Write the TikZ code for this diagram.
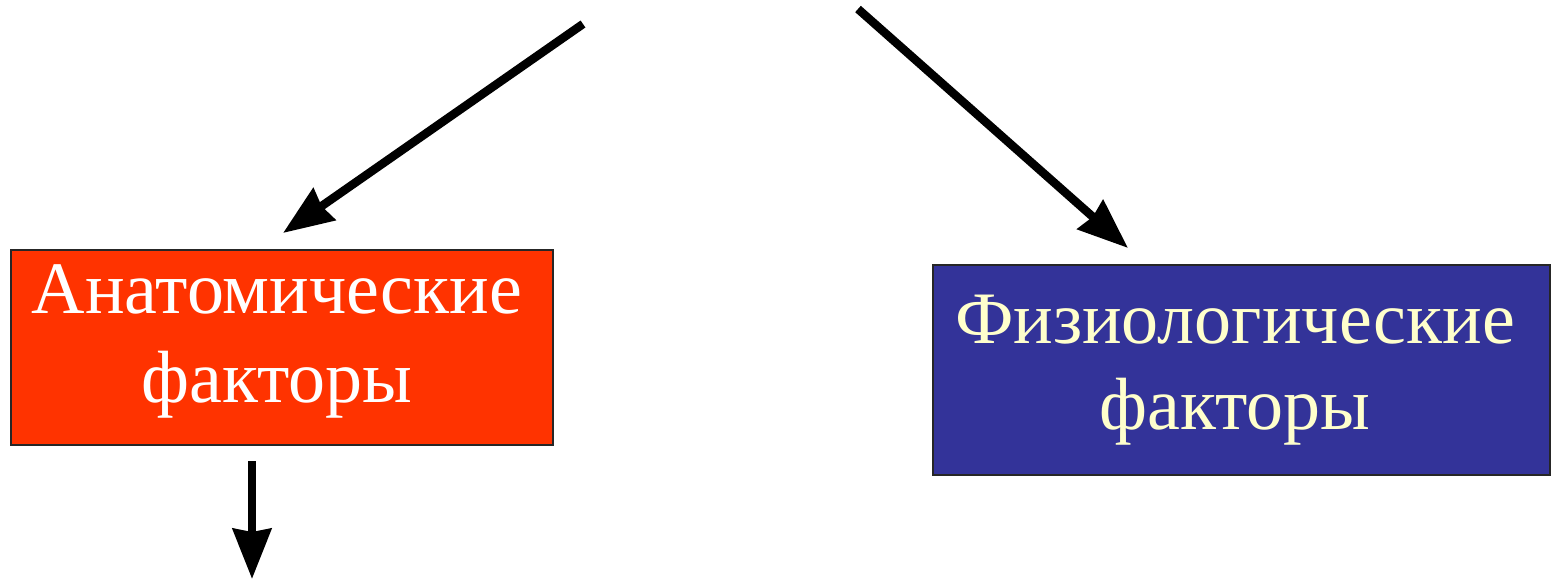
\documentclass[tikz,border=0pt]{standalone}
\usepackage{fontspec}
\setmainfont{Liberation Serif}
\usetikzlibrary{arrows.meta}
\definecolor{boxred}{HTML}{FF3300}
\definecolor{boxblue}{HTML}{333399}
\definecolor{paleyellow}{HTML}{FFFFCC}
\begin{document}
\begin{tikzpicture}[x=1pt,y=-1pt,
  factorbox/.style={draw=black!85, line width=2pt, inner sep=0pt, rectangle},
  boxtext/.style={inner sep=0pt, anchor=north, align=center},
  arr/.style={line width=8.5pt, -{Stealth[length=50pt,width=38pt,inset=3pt]}}]
\useasboundingbox (0,0) rectangle (1552,581);
% boxes
\node[factorbox, fill=boxred, minimum width=542pt, minimum height=195pt] (anat) at (282,347.5) {};
\node[factorbox, fill=boxblue, minimum width=617pt, minimum height=210pt] (phys) at (1241.5,370) {};
% texts
\node[boxtext, text=white, font=\fontsize{74}{89}\selectfont] (anattext) at (277,264) {Анатомические\\факторы};
\node[boxtext, text=paleyellow, font=\fontsize{74}{86}\selectfont] (phystext) at (1235,295) {Физиологические\\факторы};
% arrows
\coordinate (a1s) at (583,24);
\coordinate (a1e) at (283,233);
\coordinate (a2s) at (858,9);
\coordinate (a2e) at (1128,248);
\coordinate (a3s) at (252,461);
\coordinate (a3e) at (252,579);
\draw[arr] (a1s) -- (a1e);
\draw[arr] (a2s) -- (a2e);
\draw[arr] (a3s) -- (a3e);
\end{tikzpicture}
\end{document}
